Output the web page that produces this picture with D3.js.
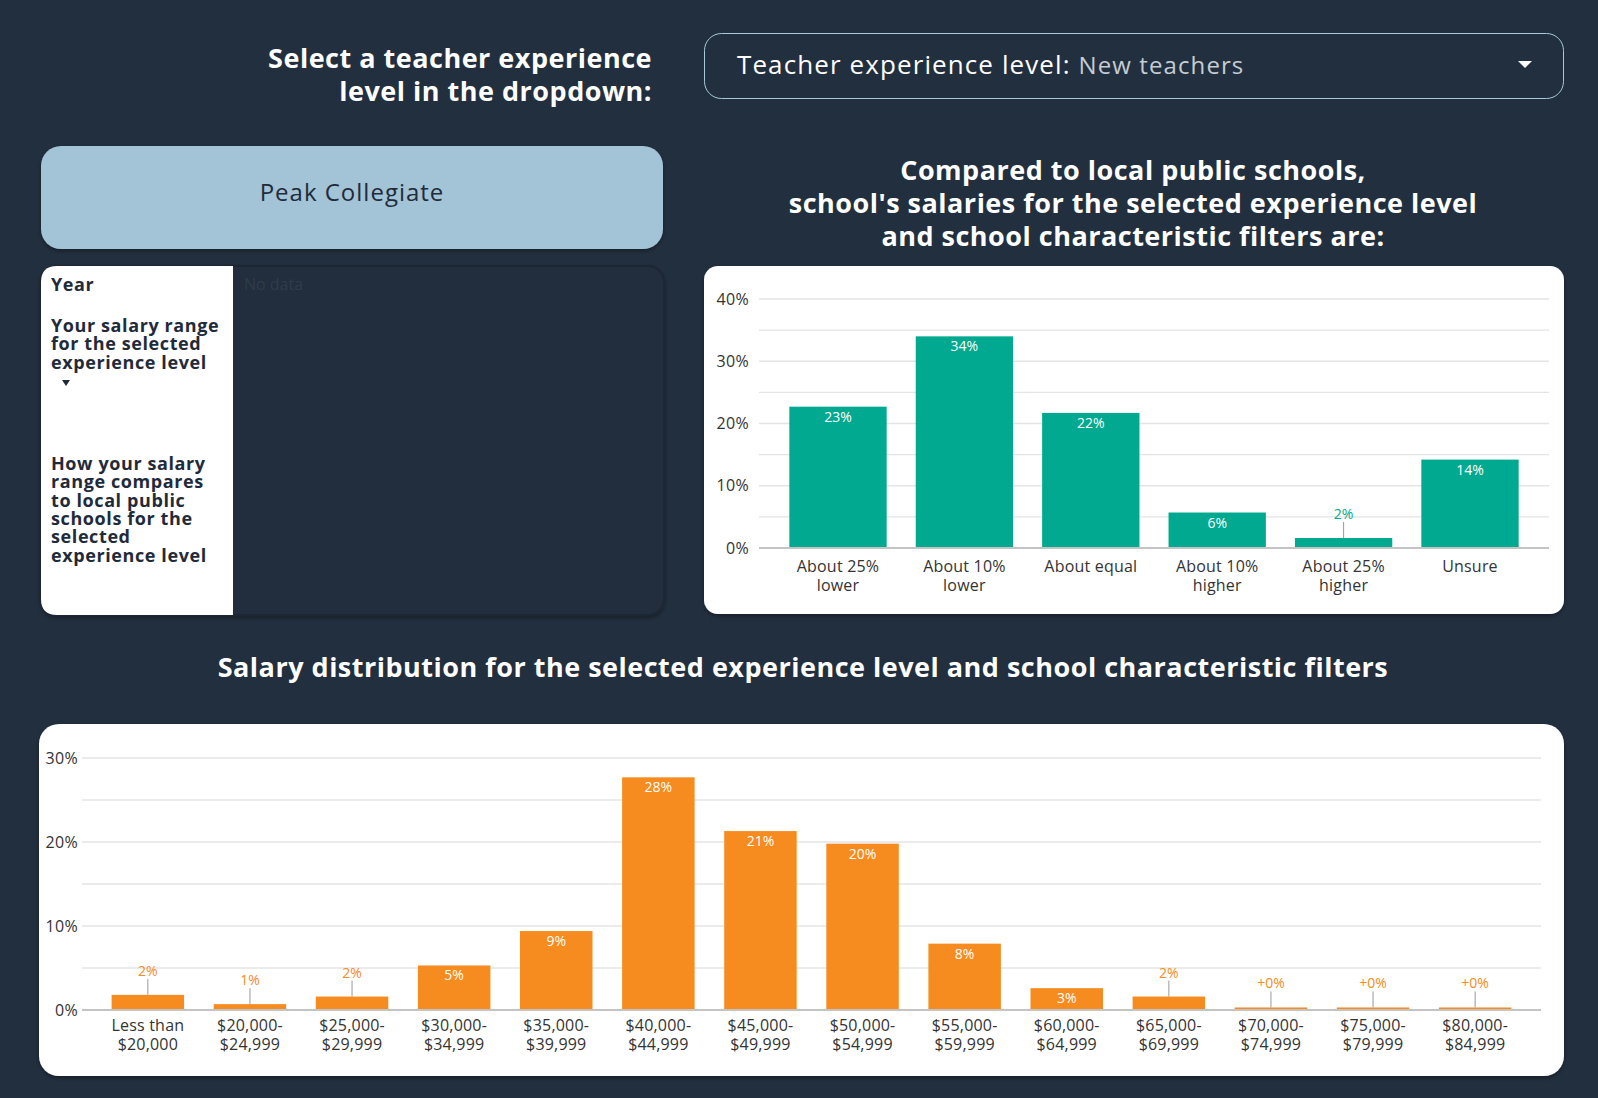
<!DOCTYPE html>
<html>
<head>
<meta charset="utf-8">
<script src="https://cdn.jsdelivr.net/npm/d3@7"></script>
<style>
  html, body { margin: 0; padding: 0; background: #222f3e; }
  body { width: 1598px; height: 1098px; overflow: hidden; font-family: "Open Sans", "Noto Sans", sans-serif; }
  svg text { font-family: "Open Sans", "Noto Sans", sans-serif; }
</style>
</head>
<body>
<svg id="page" width="1598" height="1098"></svg>
<script>
// chart data
const compareCategories = ["About 25%\nlower", "About 10%\nlower", "About equal", "About 10%\nhigher", "About 25%\nhigher", "Unsure"];
const compareValues = [22.7, 34.0, 21.7, 5.7, 1.6, 14.2];
const compareTicks = [0, 10, 20, 30, 40];

const salaryCategories = [
  "Less than\n$20,000", "$20,000-\n$24,999", "$25,000-\n$29,999", "$30,000-\n$34,999",
  "$35,000-\n$39,999", "$40,000-\n$44,999", "$45,000-\n$49,999", "$50,000-\n$54,999",
  "$55,000-\n$59,999", "$60,000-\n$64,999", "$65,000-\n$69,999", "$70,000-\n$74,999",
  "$75,000-\n$79,999", "$80,000-\n$84,999"
];
const salaryValues = [1.8, 0.7, 1.6, 5.3, 9.4, 27.7, 21.3, 19.8, 7.9, 2.6, 1.6, 0.3, 0.3, 0.3];
const salaryTicks = [0, 10, 20, 30];

const tableLabels = [
  ["Year"],
  ["Your salary range", "for the selected", "experience level"],
  ["How your salary", "range compares", "to local public", "schools for the", "selected", "experience level"]
];

const svg = d3.select("#page");
const bg = "#222f3e";
const dark = "#1f2b3a";

// drop shadow for cards
const defs = svg.append("defs");
const f = defs.append("filter").attr("id", "shadow").attr("x", "-5%").attr("y", "-5%").attr("width", "110%").attr("height", "115%");
f.append("feDropShadow").attr("dx", 0).attr("dy", 2).attr("stdDeviation", 2).attr("flood-color", "#000").attr("flood-opacity", 0.35);

// header
const header = svg.append("text")
  .attr("text-anchor", "end")
  .attr("fill", "#fff")
  .attr("font-size", 27)
  .attr("letter-spacing", 0.5)
  .attr("font-weight", 700);
["Select a teacher experience", "level in the dropdown:"].forEach((t, i) => {
  header.append("tspan").attr("x", 652).attr("y", 68 + i * 33).text(t);
});

// dropdown
svg.append("rect")
  .attr("x", 704.5).attr("y", 33.5).attr("width", 859).attr("height", 65)
  .attr("rx", 17).attr("fill", bg).attr("stroke", "#a9c8d8").attr("stroke-width", 1);
const dd = svg.append("text").attr("x", 737).attr("y", 74).attr("font-size", 26)
  .attr("letter-spacing", 1.1).attr("fill", "#fff");
dd.append("tspan").text("Teacher experience level: ");
dd.append("tspan").attr("fill", "#c5ccd4").attr("font-size", 24).text("New teachers");
svg.append("path")
  .attr("d", d3.line()([[1518, 61], [1532, 61], [1525, 68]]) + "Z")
  .attr("fill", "#fff");

// school card
svg.append("rect")
  .attr("x", 41).attr("y", 146).attr("width", 622).attr("height", 103)
  .attr("rx", 20).attr("fill", "#a3c3d6").attr("filter", "url(#shadow)");
svg.append("text")
  .attr("x", 352).attr("y", 201).attr("text-anchor", "middle")
  .attr("font-size", 24).attr("letter-spacing", 1).attr("fill", dark).text("Peak Collegiate");

// table card
svg.append("rect")
  .attr("x", 41).attr("y", 266).attr("width", 623).attr("height", 349)
  .attr("rx", 16).attr("fill", bg).attr("stroke", "#1c2735").attr("stroke-width", 2)
  .attr("filter", "url(#shadow)");
svg.append("path")
  .attr("d", `M233,266 H57 Q41,266 41,282 V599 Q41,615 57,615 H233 Z`)
  .attr("fill", "#fff");
const labelStarts = [291, 332, 470];
tableLabels.forEach((lines, i) => {
  const t = svg.append("text").attr("font-size", 18).attr("letter-spacing", 0.6)
    .attr("font-weight", 700).attr("fill", dark);
  lines.forEach((l, j) => t.append("tspan").attr("x", 51).attr("y", labelStarts[i] + j * 18.3).text(l));
});
svg.append("path")
  .attr("d", d3.line()([[62, 380], [70, 380], [66, 386]]) + "Z")
  .attr("fill", dark);
svg.append("text").attr("x", 244).attr("y", 290).attr("font-size", 16).attr("fill", "#2e3c4c").text("No data");

// titles
const t1 = svg.append("text").attr("text-anchor", "middle").attr("fill", "#fff")
  .attr("font-size", 27).attr("letter-spacing", 0.5).attr("font-weight", 700);
["Compared to local public schools,", "school's salaries for the selected experience level", "and school characteristic filters are:"]
  .forEach((l, i) => t1.append("tspan").attr("x", 1133).attr("y", 180 + i * 33).text(l));
svg.append("text").attr("x", 803).attr("y", 677).attr("text-anchor", "middle")
  .attr("fill", "#fff").attr("font-size", 27).attr("letter-spacing", 0.5).attr("font-weight", 700)
  .text("Salary distribution for the selected experience level and school characteristic filters");

function barChart(opts) {
  const { card, cats, values, ticks, yMax, xRange, yRange, color, padIn, padOut, labelLines, tickPad } = opts;
  svg.append("rect")
    .attr("x", card[0]).attr("y", card[1]).attr("width", card[2]).attr("height", card[3])
    .attr("rx", card[4]).attr("fill", "#fff").attr("filter", "url(#shadow)");

  const x = d3.scaleBand().domain(cats).range(xRange).paddingInner(padIn).paddingOuter(padOut);
  const y = d3.scaleLinear().domain([0, yMax]).range(yRange);
  const g = svg.append("g");

  // grid every 5%
  g.append("g")
    .selectAll("line")
    .data(d3.range(5, yMax + 1, 5))
    .join("line")
    .attr("x1", xRange[0]).attr("x2", xRange[1])
    .attr("y1", d => y(d)).attr("y2", d => y(d))
    .attr("stroke", "#e4e4e4").attr("stroke-width", 1.3);

  // y axis labels
  const yAxis = g.append("g")
    .attr("transform", `translate(${xRange[0]},0)`)
    .call(d3.axisLeft(y).tickValues(ticks).tickFormat(d => d + "%").tickSize(0).tickPadding(tickPad));
  yAxis.select(".domain").remove();
  yAxis.selectAll("text").attr("font-size", 16).attr("letter-spacing", 0.3)
    .attr("fill", "#333").attr("font-family", "Open Sans");

  // bars
  g.append("g")
    .selectAll("rect")
    .data(values)
    .join("rect")
    .attr("x", (d, i) => x(cats[i]))
    .attr("y", d => y(d))
    .attr("width", x.bandwidth())
    .attr("height", d => y(0) - y(d))
    .attr("fill", color);

  // baseline
  g.append("line")
    .attr("x1", xRange[0]).attr("x2", xRange[1])
    .attr("y1", y(0)).attr("y2", y(0))
    .attr("stroke", "#c4c4c4").attr("stroke-width", 2);

  // value labels
  const fmt = v => (v < 0.5 ? "+0%" : Math.round(v) + "%");
  values.forEach((v, i) => {
    const cx = x(cats[i]) + x.bandwidth() / 2;
    const h = y(0) - y(v);
    if (h >= 20) {
      g.append("text").attr("x", cx).attr("y", y(v) + 15).attr("text-anchor", "middle")
        .attr("font-size", 14).attr("fill", "#fff").text(fmt(v));
    } else {
      g.append("line").attr("x1", cx).attr("x2", cx).attr("y1", y(v) - 16).attr("y2", y(v))
        .attr("stroke", "#999").attr("stroke-width", 1);
      g.append("text").attr("x", cx).attr("y", y(v) - 19).attr("text-anchor", "middle")
        .attr("font-size", 14).attr("fill", color).text(fmt(v));
    }
  });

  // x labels
  cats.forEach(c => {
    const t = g.append("text").attr("text-anchor", "middle").attr("font-size", 16)
      .attr("letter-spacing", 0.2).attr("fill", "#333");
    c.split("\n").forEach((l, j) => {
      t.append("tspan").attr("x", x(c) + x.bandwidth() / 2).attr("y", labelLines[0] + j * labelLines[1]).text(l);
    });
  });
}

barChart({
  card: [704, 266, 860, 348, 14],
  cats: compareCategories,
  values: compareValues,
  ticks: compareTicks,
  yMax: 40,
  xRange: [759, 1549],
  yRange: [548, 299],
  color: "#00a98f",
  padIn: 0.23,
  padOut: 0.24,
  labelLines: [572, 19],
  tickPad: 10
});

barChart({
  card: [39, 724, 1525, 352, 20],
  cats: salaryCategories,
  values: salaryValues,
  ticks: salaryTicks,
  yMax: 30,
  xRange: [82, 1541],
  yRange: [1010, 758],
  color: "#f68b1f",
  padIn: 0.29,
  padOut: 0.29,
  labelLines: [1031, 19],
  tickPad: 4
});
</script>
</body>
</html>
